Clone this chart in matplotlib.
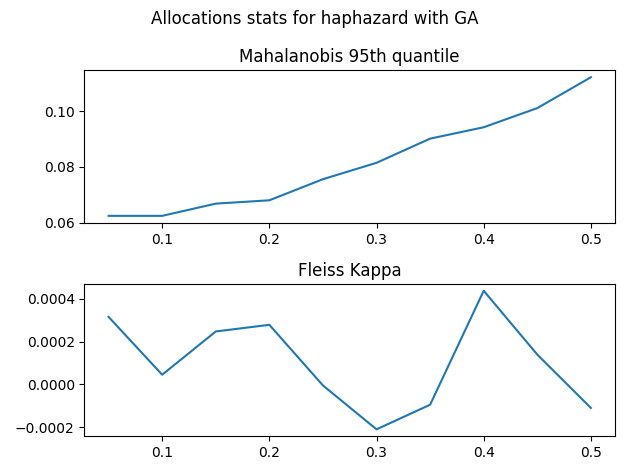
import matplotlib
matplotlib.use("Agg")
import matplotlib.pyplot as plt

# ==============================
# Datos
# ==============================
x = [0.05, 0.1, 0.15, 0.2, 0.25, 0.3, 0.35, 0.4, 0.45, 0.5]
mahalanobis_q95 = [0.0624, 0.0624, 0.0668, 0.0680, 0.0756, 0.0815, 0.0902, 0.0943, 0.1012, 0.1123]
fleiss_kappa = [0.000315, 0.000045, 0.000247, 0.000278, -0.000005, -0.000210,
                -0.000095, 0.000437, 0.000139, -0.000110]

# ==============================
# Gráfica
# ==============================
fig, (ax1, ax2) = plt.subplots(2, 1, figsize=(6.3, 4.75), dpi=100)

ax1.plot(x, mahalanobis_q95)
ax1.set_title("Mahalanobis 95th quantile")

ax2.plot(x, fleiss_kappa)
ax2.set_title("Fleiss Kappa")

fig.suptitle("Allocations stats for haphazard with GA")
fig.tight_layout()
fig.savefig("out.png")
